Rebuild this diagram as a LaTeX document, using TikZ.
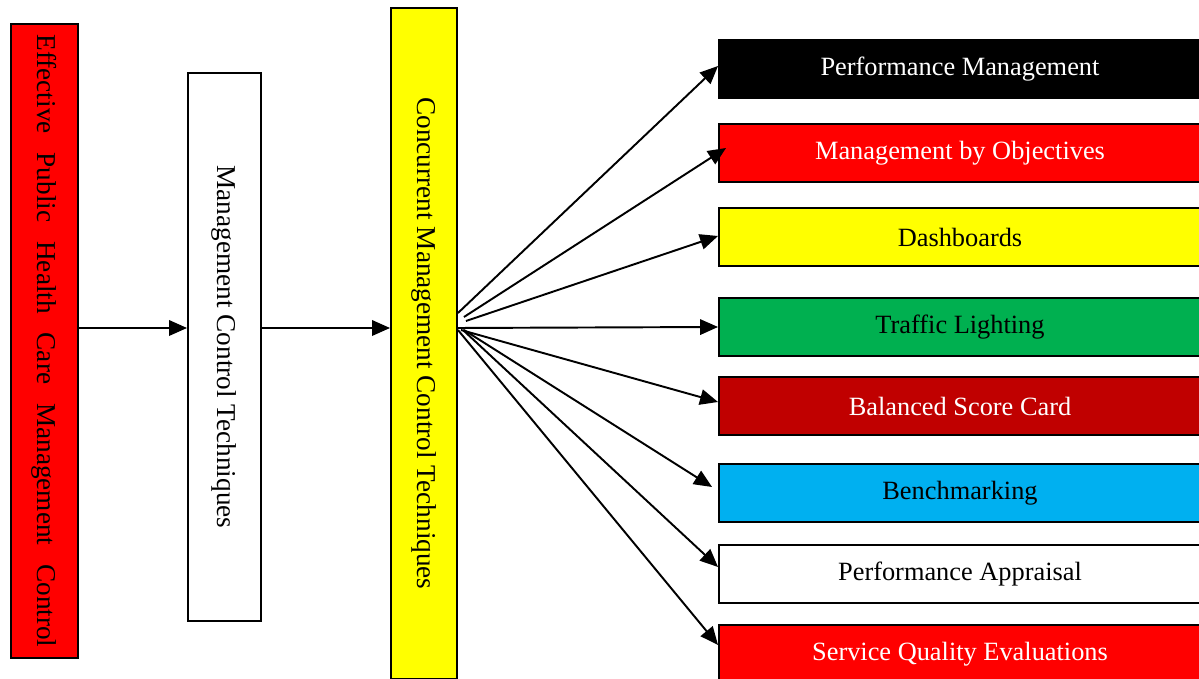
\documentclass[tikz,border=0pt]{standalone}
\usepackage{fontspec}
\setmainfont{Liberation Serif}
\usepackage{graphicx}
\usetikzlibrary{arrows.meta}
\definecolor{tlgreen}{HTML}{00B050}
\definecolor{bscred}{HTML}{C00000}
\definecolor{bmcyan}{HTML}{00B0F0}
\definecolor{boxyellow}{HTML}{FFFF00}
\definecolor{boxred}{HTML}{FF0000}

\begin{document}
\begin{tikzpicture}[
  box/.style={draw,line width=1.1pt,inner sep=0pt},
  arr/.style={line width=1.1pt,-{Triangle[length=0.36cm,width=0.31cm]}},
  vtext/.style={font=\fontsize{15.5}{18}\selectfont},
  htext/.style={font=\fontsize{15}{18}\selectfont}]
\useasboundingbox (0,0) rectangle (23.98,-13.58);
\clip (0,0) rectangle (23.98,-13.58);
\node[box,fill=boxred,minimum width=1.34cm,minimum height=12.68cm,vtext] (effective) at (0.89,-6.82)
  {\rotatebox{-90}{\makebox[12.26cm][s]{Effective Public Health Care Management Control}}};
\node[box,fill=white,minimum width=1.46cm,minimum height=10.96cm,vtext] (mct) at (4.49,-6.94)
  {\rotatebox{-90}{Management Control Techniques}};
\node[box,fill=boxyellow,minimum width=1.32cm,minimum height=13.42cm,vtext] (cmct) at (8.48,-6.87)
  {\rotatebox{-90}{Concurrent Management Control Techniques}};
\foreach \name/\y/\col/\tcol/\txt in {pm/-1.38/black/white/Performance Management,
  mbo/-3.06/boxred/white/Management by Objectives, dash/-4.74/boxyellow/black/Dashboards,
  tl/-6.54/tlgreen/black/Traffic Lighting, bsc/-8.12/bscred/white/Balanced Score Card,
  bench/-9.86/bmcyan/black/Benchmarking, pa/-11.48/white/black/Performance Appraisal,
  sqe/-13.08/boxred/white/Service Quality Evaluations}
  { \node[box,fill=\col,text=\tcol,minimum width=9.64cm,minimum height=1.16cm,htext] (\name) at (19.2,\y) {\txt}; }
\draw[arr] ([yshift=0.26cm]effective.east) -- ([yshift=0.38cm]mct.west);
\draw[arr] ([yshift=0.38cm]mct.east) -- ([yshift=0.31cm]cmct.west);
\foreach \name/\sx/\sy/\ex/\ey in {pm/0/0.61/0/0.06, mbo/0.12/0.53/0.16/0.1,
  dash/0.16/0.45/0/0.02, tl/0/0.31/0/0, bsc/0.06/0.27/0/0.08,
  bench/0.12/0.27/-0.12/0.12, pa/0.1/0.27/0/0.14, sqe/0/0.27/0/0.18}
  { \draw[arr] ([shift={(\sx,\sy)}]cmct.east) -- ([shift={(\ex,\ey)}]\name.west); }
\end{tikzpicture}
\end{document}
